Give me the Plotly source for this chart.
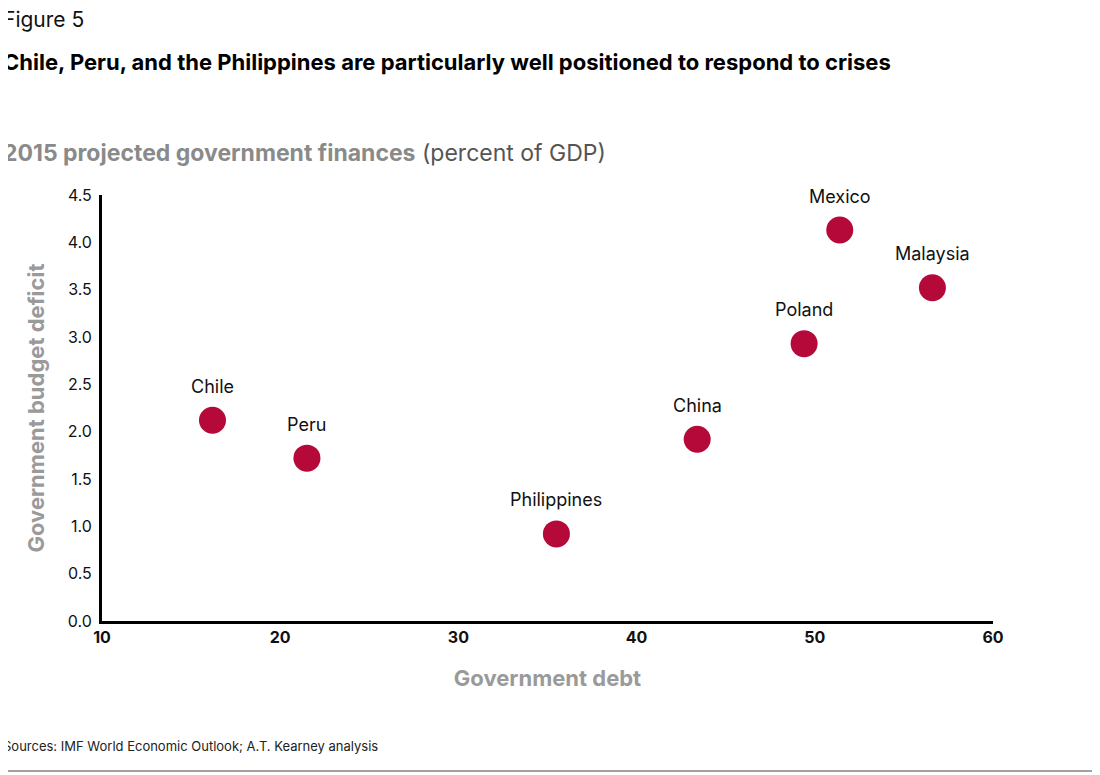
import plotly.graph_objects as go

countries = ["Chile", "Peru", "Philippines", "China", "Poland", "Mexico", "Malaysia"]
debt = [16.2, 21.5, 35.5, 43.4, 49.4, 51.4, 56.6]
deficit = [2.12, 1.72, 0.92, 1.92, 2.93, 4.13, 3.52]
x_ticks = [10, 20, 30, 40, 50, 60]
y_ticks = [0.0, 0.5, 1.0, 1.5, 2.0, 2.5, 3.0, 3.5, 4.0, 4.5]

F = "Inter"
L, R, T, B = 94, 115, 187, 162
PW, PH = 1100 - L - R, 775 - T - B
OFF = 8  # page offset


def px(x):
    return (x - OFF - L) / PW


def py(y):
    return (775 - B - (y - OFF)) / PH


fig = go.Figure(go.Scatter(x=debt, y=deficit, mode="markers",
    marker=dict(size=27, color="#B5093A"), cliponaxis=False, hoverinfo="skip"))

for c, xv, yv in zip(countries, debt, deficit):
    fig.add_annotation(x=xv, y=yv, text=c, showarrow=False, yshift=34,
                       font=dict(family=F, size=18, color="#111"))

fig.update_layout(
    width=1100, height=775, paper_bgcolor="white", plot_bgcolor="white",
    margin=dict(l=L, r=R, t=T, b=B), showlegend=False,
    xaxis=dict(range=[10, 60], tickvals=x_ticks, ticktext=[f"<b>{v}</b>" for v in x_ticks],
               showgrid=False, zeroline=False, showline=True, linecolor="black", linewidth=3,
               ticks="", tickfont=dict(family=F, size=16, color="#111"),
               title=dict(text="<b>Government debt</b>", font=dict(family=F, size=22, color="#9a9a9a"), standoff=25)),
    yaxis=dict(range=[0, 4.5], tickvals=y_ticks, ticktext=[f"{v:.1f}" for v in y_ticks],
               showgrid=False, zeroline=False, showline=True, linecolor="black", linewidth=3,
               ticks="outside", ticklen=4, tickcolor="white", tickfont=dict(family=F, size=16, color="#111"),
               title=dict(text="<b>Government budget deficit</b>", font=dict(family=F, size=22, color="#9a9a9a"), standoff=18)),
)
for yl in (1, 771):
    fig.add_shape(type="line", xref="paper", yref="paper", x0=px(0), x1=px(1100), y0=py(yl), y1=py(yl),
                  line=dict(color="#444", width=1))
texts = [
    (19, "Figure 5", 21, "#111"),
    (62, "<b>Chile, Peru, and the Philippines are particularly well positioned to respond to crises</b>", 22, "#000"),
    (153, "<b><span style='color:#8a8a8a'>2015 projected government finances</span></b> <span style='color:#555'>(percent of GDP)</span>", 23, "#555"),
    (746, "Sources: IMF World Economic Outlook; A.T. Kearney analysis", 13, "#222"),
]
for ypx, t, s, col in texts:
    fig.add_annotation(xref="paper", yref="paper", x=px(1), y=py(ypx), text=t, showarrow=False,
                       xanchor="left", yanchor="middle", font=dict(family=F, size=s, color=col))
fig.write_html("out.html")
